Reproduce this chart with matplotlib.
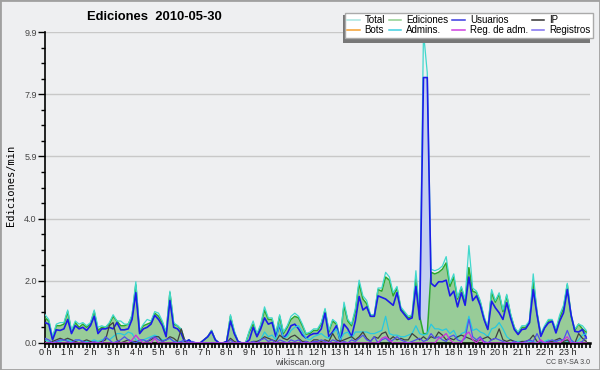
import matplotlib
matplotlib.use("Agg")
import matplotlib.pyplot as plt
import numpy as np
from matplotlib.lines import Line2D
from matplotlib.patches import Rectangle
from matplotlib.ticker import MultipleLocator, FixedLocator

plt.rcParams['font.family'] = ['Liberation Sans', 'DejaVu Sans']

title = "Ediciones  2010-05-30"
hour_labels = [f"{h} h" for h in range(24)]
y_ticks = [0.0, 1.98, 3.96, 5.94, 7.92, 9.9]
y_tick_labels = ["0.0", "2.0", "4.0", "5.9", "7.9", "9.9"]

# edits per minute, one value every 10 minutes (144 slots per day)
total = [0.90, 0.75, 0.20, 0.60, 0.65, 0.65, 1.05, 0.40, 0.70, 0.60, 0.65, 0.55,
         0.65, 1.05, 0.50, 0.55, 0.50, 0.65, 0.90, 0.70, 0.70, 0.60, 0.60, 0.90,
         1.95, 0.40, 0.60, 0.75, 0.70, 1.00, 0.95, 0.70, 0.35, 1.65, 0.65, 0.55,
         0.45, 0.05, 0.10, 0.00, 0.00, 0.00, 0.10, 0.20, 0.40, 0.10, 0.00, 0.00,
         0.05, 0.90, 0.40, 0.05, 0.00, 0.00, 0.40, 0.70, 0.30, 0.60, 1.15, 0.80,
         0.80, 0.30, 0.90, 0.35, 0.55, 0.85, 0.95, 0.85, 0.60, 0.30, 0.35, 0.45,
         0.45, 0.65, 1.10, 0.40, 0.75, 0.65, 0.15, 1.30, 0.75, 0.60, 1.10, 2.00,
         1.50, 1.35, 0.90, 0.90, 1.75, 1.75, 2.25, 2.10, 1.60, 1.80, 1.15, 1.00,
         0.85, 0.90, 2.30, 0.90, 9.90, 8.60, 2.35, 2.30, 2.35, 2.45, 2.75, 1.90,
         2.20, 1.45, 1.80, 1.40, 3.10, 1.75, 1.65, 1.35, 0.85, 0.50, 1.70, 1.35,
         1.60, 1.05, 1.55, 0.95, 0.50, 0.35, 0.55, 0.55, 0.70, 2.20, 1.00, 0.30,
         0.55, 0.75, 0.75, 0.45, 0.90, 1.20, 1.90, 0.90, 0.45, 0.60, 0.55, 0.40]

ediciones = [0.80, 0.70, 0.15, 0.55, 0.55, 0.60, 1.00, 0.35, 0.65, 0.50, 0.60, 0.50,
             0.60, 1.00, 0.40, 0.50, 0.50, 0.60, 0.85, 0.70, 0.55, 0.55, 0.60, 0.85,
             1.85, 0.35, 0.55, 0.60, 0.65, 0.95, 0.85, 0.65, 0.30, 1.60, 0.60, 0.55,
             0.40, 0.00, 0.10, 0.00, 0.00, 0.00, 0.10, 0.20, 0.40, 0.10, 0.00, 0.00,
             0.05, 0.85, 0.35, 0.05, 0.00, 0.00, 0.35, 0.60, 0.25, 0.55, 1.05, 0.75,
             0.75, 0.25, 0.85, 0.30, 0.50, 0.75, 0.85, 0.80, 0.55, 0.28, 0.30, 0.40,
             0.40, 0.60, 1.05, 0.35, 0.70, 0.60, 0.15, 1.20, 0.70, 0.55, 1.00, 1.90,
             1.40, 1.25, 0.85, 0.85, 1.70, 1.65, 2.10, 2.00, 1.50, 1.75, 1.10, 0.95,
             0.80, 0.85, 2.05, 0.85, 0.30, 0.30, 2.25, 2.20, 2.25, 2.35, 2.55, 1.80,
             2.10, 1.40, 1.75, 1.35, 2.40, 1.65, 1.60, 1.30, 0.80, 0.45, 1.60, 1.30,
             1.55, 1.00, 1.50, 0.90, 0.50, 0.30, 0.50, 0.50, 0.65, 2.00, 0.95, 0.25,
             0.50, 0.70, 0.70, 0.40, 0.80, 1.10, 1.85, 0.85, 0.40, 0.60, 0.45, 0.35]

usuarios = [0.65, 0.60, 0.10, 0.42, 0.40, 0.45, 0.75, 0.30, 0.55, 0.45, 0.50, 0.40,
            0.55, 0.85, 0.30, 0.45, 0.45, 0.50, 0.45, 0.65, 0.42, 0.42, 0.45, 0.75,
            1.60, 0.30, 0.45, 0.50, 0.60, 0.88, 0.75, 0.55, 0.20, 1.35, 0.50, 0.45,
            0.30, 0.00, 0.10, 0.00, 0.00, 0.00, 0.10, 0.20, 0.37, 0.10, 0.00, 0.00,
            0.05, 0.70, 0.30, 0.05, 0.00, 0.00, 0.10, 0.50, 0.20, 0.45, 0.80, 0.60,
            0.65, 0.20, 0.55, 0.15, 0.30, 0.55, 0.60, 0.45, 0.25, 0.15, 0.25, 0.30,
            0.30, 0.45, 0.95, 0.20, 0.35, 0.55, 0.05, 0.60, 0.45, 0.20, 0.70, 1.48,
            1.05, 1.15, 0.85, 0.85, 1.50, 1.45, 1.40, 1.30, 1.20, 1.60, 1.05, 0.90,
            0.75, 0.80, 1.80, 0.75, 8.45, 8.45, 1.90, 1.80, 1.95, 1.95, 2.00, 1.50,
            1.65, 1.15, 1.60, 1.20, 2.10, 1.35, 1.50, 1.20, 0.75, 0.43, 1.33, 1.12,
            0.96, 0.75, 1.28, 0.80, 0.43, 0.27, 0.43, 0.45, 0.64, 1.70, 0.90, 0.21,
            0.48, 0.64, 0.69, 0.32, 0.70, 0.96, 1.70, 0.90, 0.37, 0.35, 0.43, 0.16]

admins = [0.10, 0.05, 0.00, 0.05, 0.05, 0.10, 0.10, 0.05, 0.05, 0.10, 0.05, 0.05,
          0.05, 0.10, 0.05, 0.10, 0.15, 0.10, 0.20, 0.30, 0.30, 0.25, 0.35, 0.30,
          0.10, 0.05, 0.10, 0.15, 0.20, 0.25, 0.20, 0.10, 0.10, 0.15, 0.05, 0.05,
          0.05, 0.00, 0.00, 0.00, 0.00, 0.00, 0.00, 0.00, 0.00, 0.00, 0.00, 0.00,
          0.00, 0.00, 0.00, 0.00, 0.00, 0.00, 0.00, 0.00, 0.05, 0.10, 0.35, 0.20,
          0.25, 0.10, 0.60, 0.15, 0.20, 0.40, 0.50, 0.55, 0.35, 0.15, 0.10, 0.20,
          0.25, 0.30, 0.20, 0.15, 0.30, 0.45, 0.10, 0.30, 0.35, 0.15, 0.35, 0.35,
          0.35, 0.35, 0.30, 0.30, 0.35, 0.40, 0.85, 0.30, 0.25, 0.25, 0.20, 0.20,
          0.25, 0.30, 0.55, 0.30, 0.25, 0.30, 0.60, 0.45, 0.45, 0.40, 0.45, 0.30,
          0.40, 0.15, 0.30, 0.35, 0.85, 0.40, 0.45, 0.35, 0.30, 0.20, 0.45, 0.50,
          0.65, 0.45, 0.20, 0.10, 0.05, 0.05, 0.05, 0.00, 0.05, 0.05, 0.00, 0.00,
          0.05, 0.10, 0.05, 0.05, 0.10, 0.10, 0.05, 0.05, 0.00, 0.10, 0.25, 0.30]

ip = [0.00, 0.00, 0.05, 0.10, 0.15, 0.10, 0.15, 0.10, 0.05, 0.00, 0.05, 0.10,
      0.05, 0.00, 0.00, 0.05, 0.10, 0.55, 0.65, 0.10, 0.00, 0.05, 0.10, 0.05,
      0.05, 0.00, 0.00, 0.05, 0.10, 0.20, 0.20, 0.05, 0.10, 0.20, 0.15, 0.05,
      0.45, 0.05, 0.00, 0.00, 0.00, 0.00, 0.00, 0.00, 0.00, 0.00, 0.00, 0.00,
      0.00, 0.15, 0.05, 0.00, 0.00, 0.00, 0.00, 0.05, 0.05, 0.10, 0.20, 0.15,
      0.10, 0.05, 0.25, 0.15, 0.10, 0.20, 0.25, 0.15, 0.05, 0.05, 0.00, 0.10,
      0.10, 0.05, 0.10, 0.05, 0.30, 0.10, 0.05, 0.10, 0.15, 0.20, 0.10, 0.20,
      0.35, 0.15, 0.05, 0.20, 0.15, 0.30, 0.35, 0.10, 0.20, 0.10, 0.15, 0.10,
      0.10, 0.30, 0.20, 0.10, 0.20, 0.10, 0.20, 0.15, 0.35, 0.25, 0.10, 0.15,
      0.10, 0.20, 0.25, 0.20, 0.15, 0.10, 0.05, 0.10, 0.15, 0.20, 0.10, 0.15,
      0.45, 0.10, 0.05, 0.10, 0.05, 0.00, 0.05, 0.05, 0.10, 0.25, 0.05, 0.00,
      0.00, 0.05, 0.05, 0.10, 0.15, 0.05, 0.10, 0.00, 0.00, 0.30, 0.15, 0.05]

registros = [0.15, 0.10, 0.00, 0.05, 0.10, 0.10, 0.05, 0.00, 0.10, 0.10, 0.05, 0.00,
             0.00, 0.05, 0.00, 0.00, 0.20, 0.10, 0.00, 0.05, 0.10, 0.20, 0.10, 0.05,
             0.00, 0.10, 0.10, 0.05, 0.15, 0.20, 0.10, 0.05, 0.10, 0.15, 0.05, 0.00,
             0.05, 0.10, 0.00, 0.05, 0.00, 0.00, 0.00, 0.00, 0.00, 0.00, 0.00, 0.00,
             0.00, 0.10, 0.00, 0.00, 0.00, 0.00, 0.00, 0.05, 0.00, 0.10, 0.15, 0.05,
             0.10, 0.00, 0.10, 0.05, 0.00, 0.10, 0.05, 0.10, 0.00, 0.05, 0.00, 0.05,
             0.05, 0.10, 0.05, 0.00, 0.10, 0.05, 0.00, 0.05, 0.00, 0.10, 0.05, 0.15,
             0.25, 0.10, 0.05, 0.20, 0.00, 0.10, 0.15, 0.05, 0.10, 0.20, 0.10, 0.05,
             0.00, 0.05, 0.10, 0.15, 0.05, 0.10, 0.30, 0.15, 0.20, 0.10, 0.05, 0.20,
             0.25, 0.10, 0.05, 0.15, 0.75, 0.20, 0.10, 0.20, 0.05, 0.00, 0.10, 0.15,
             0.10, 0.05, 0.00, 0.00, 0.05, 0.00, 0.00, 0.05, 0.10, 0.05, 0.30, 0.05,
             0.00, 0.05, 0.10, 0.05, 0.10, 0.10, 0.40, 0.10, 0.00, 0.00, 0.05, 0.20]

reg_adm = [0.00, 0.00, 0.00, 0.00, 0.00, 0.00, 0.00, 0.00, 0.00, 0.00, 0.00, 0.00,
           0.00, 0.00, 0.00, 0.00, 0.00, 0.00, 0.00, 0.00, 0.00, 0.00, 0.00, 0.10,
           0.25, 0.10, 0.00, 0.00, 0.00, 0.15, 0.00, 0.00, 0.00, 0.00, 0.00, 0.00,
           0.00, 0.00, 0.00, 0.00, 0.00, 0.00, 0.00, 0.00, 0.00, 0.00, 0.00, 0.00,
           0.00, 0.00, 0.00, 0.00, 0.00, 0.00, 0.00, 0.00, 0.00, 0.00, 0.00, 0.00,
           0.00, 0.00, 0.00, 0.00, 0.00, 0.00, 0.00, 0.00, 0.00, 0.00, 0.00, 0.00,
           0.00, 0.00, 0.00, 0.00, 0.00, 0.00, 0.00, 0.00, 0.00, 0.00, 0.00, 0.00,
           0.00, 0.00, 0.00, 0.00, 0.00, 0.15, 0.20, 0.10, 0.00, 0.00, 0.00, 0.00,
           0.00, 0.00, 0.00, 0.00, 0.00, 0.00, 0.00, 0.00, 0.15, 0.20, 0.30, 0.10,
           0.00, 0.00, 0.00, 0.25, 0.35, 0.10, 0.00, 0.15, 0.00, 0.00, 0.00, 0.00,
           0.00, 0.00, 0.00, 0.00, 0.00, 0.00, 0.00, 0.00, 0.00, 0.00, 0.00, 0.10,
           0.00, 0.00, 0.00, 0.00, 0.00, 0.10, 0.20, 0.00, 0.00, 0.00, 0.00, 0.00]

legend_names = ["Total", "Bots", "Ediciones", "Admins.", "Usuarios", "Reg. de adm.", "IP", "Registros"]
legend_colors = ["#a8e6e0", "#f5a030", "#8fd08f", "#40d0e0", "#3a3ae0", "#d040e0", "#333333", "#8070f0"]

bg = "#eeeff1"
x = np.arange(len(total)) / 6.0

fig = plt.figure(figsize=(6, 3.7), dpi=100, facecolor=bg)
ax = fig.add_axes([45/600, 27/370, 545/600, 311/370])
ax.set_facecolor(bg)

ax.fill_between(x, usuarios, color="#c4d0f0", lw=0, zorder=1)
ax.fill_between(x, ediciones, color="#98cc98", lw=0, zorder=2)
ax.plot(x, ediciones, color="#2ca82c", lw=1.1, zorder=3)
ax.plot(x, total, color="#40d8cc", lw=0.9, zorder=4)
ax.plot(x, usuarios, color="#1c1ce8", lw=1.2, zorder=5)
ax.plot(x, admins, color="#28c8e0", lw=0.9, zorder=5)
ax.plot(x, ip, color="#404040", lw=0.9, zorder=5)
ax.plot(x, registros, color="#5050f0", lw=0.9, zorder=5)
ax.plot(x, reg_adm, color="#cc30dd", lw=0.9, zorder=5)

ax.set_xlim(0, 24)
ax.set_ylim(0, 9.9)
ax.yaxis.set_major_locator(FixedLocator(y_ticks))
ax.set_yticklabels(y_tick_labels)
ax.yaxis.set_minor_locator(MultipleLocator(0.495))
ax.set_xticks(range(24))
ax.set_xticklabels(hour_labels)
ax.xaxis.set_minor_locator(MultipleLocator(1/6))
ax.grid(axis="y", color="#c8c8c8", lw=1)
ax.set_axisbelow(True)

for s in ["top", "right"]:
    ax.spines[s].set_visible(False)
ax.spines["left"].set_linewidth(1.2)
ax.spines["bottom"].set_linewidth(1.8)
ax.tick_params(axis="y", which="major", length=5, width=1, pad=1, labelsize=6.5, labelcolor="#444444")
ax.tick_params(axis="y", which="minor", length=3, width=1)
ax.tick_params(axis="x", which="both", length=3.5, width=1.2, pad=0, labelsize=6.5, labelcolor="#222222")

fig.text(154/600, 1 - 17/370, title, ha="center", va="center", fontsize=9.4, fontweight="bold")
fig.text(11/600, 0.5, "Ediciones/min", rotation=90, ha="center", va="center",
         fontsize=7.5, family="DejaVu Sans Mono")
fig.text(0.5, 1 - 362.5/370, "wikiscan.org", ha="center", va="center", fontsize=6.5, color="#444444")
fig.text(590/600, 1 - 362.5/370, "CC BY-SA 3.0", ha="right", va="center", fontsize=5, color="#444444")

handles = [Line2D([], [], color=c, lw=1.1) for c in legend_colors]
fig.patches.append(Rectangle((343/600, 1 - 42.5/370), 247/600, 27/370, transform=fig.transFigure,
                             facecolor="#777777", edgecolor="none", zorder=4))
leg = fig.legend(handles, legend_names, ncol=4, loc="upper right",
                 bbox_to_anchor=(593/600, 1 - 12.5/370), fontsize=7, frameon=True,
                 fancybox=False, handlelength=1.3, handletextpad=0.5, columnspacing=0.4,
                 labelspacing=0.05, borderpad=0.25, borderaxespad=0)
leg.get_frame().set_edgecolor("#aaaaaa")
leg.get_frame().set_facecolor("white")
leg.get_frame().set_alpha(1)
leg.set_zorder(5)

fig.patches.append(Rectangle((0, 0), 1, 1, transform=fig.transFigure, fill=False,
                             edgecolor="#a0a0a0", lw=2, zorder=10))

fig.savefig("out.png", dpi=100, facecolor=bg)
